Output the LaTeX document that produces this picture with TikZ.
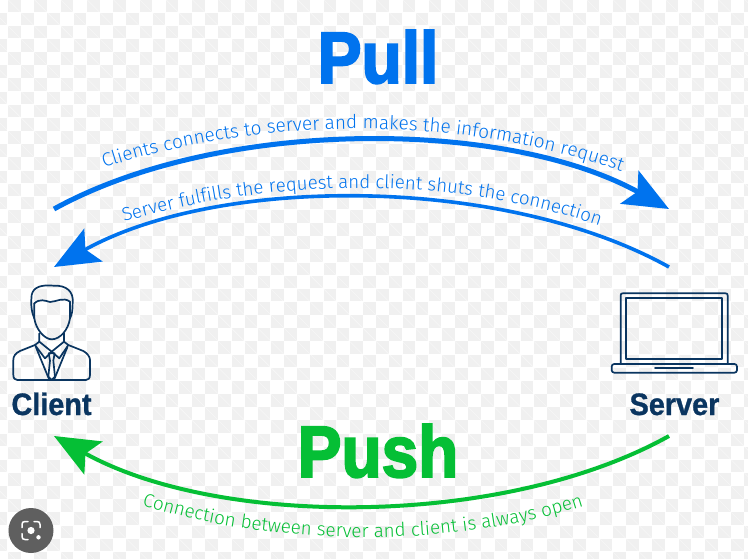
\documentclass[tikz,border=0pt]{standalone}
\usepackage{fontspec}
\usetikzlibrary{arrows.meta,decorations.text}
\setmainfont{Liberation Sans}
\newfontfamily\lightfont{Fira Sans Light}
\newfontfamily\heavyfont[UprightFont={* Bold},FakeBold=2.6,FakeStretch=0.9]{Liberation Sans}
\newfontfamily\hostfont[UprightFont={* Bold},FakeBold=1,FakeStretch=0.93]{Liberation Sans}
\definecolor{pullblue}{HTML}{0073EE}
\definecolor{pushgreen}{HTML}{05BF35}
\definecolor{navy}{HTML}{0A3560}
\definecolor{checker}{HTML}{F0F0F0}
\definecolor{badge}{HTML}{5F5F5F}
\tikzset{
  icon/.style={draw=navy,line width=1.7pt,line join=round,line cap=round},
  bigword/.style={inner sep=0pt,anchor=base,font=\heavyfont\fontsize{73}{73}\selectfont},
  hostlabel/.style={inner sep=0pt,anchor=base,text=navy,font=\hostfont\fontsize{31}{31}\selectfont},
  pullline/.style={draw=pullblue,line width=5pt},
  backline/.style={draw=pullblue,line width=3.6pt},
  pushline/.style={draw=pushgreen,line width=4pt},
  bighead/.style={-{Stealth[length=45pt,width=37.5pt,inset=9pt]}},
}
\begin{document}
\begin{tikzpicture}[x=1pt,y=-1pt]
\useasboundingbox (0,0) rectangle (748,558);
\fill[white] (0,0) rectangle (748,558);
% checker background
\foreach \c in {0,...,58}{\foreach \r in {0,...,43}{
  \ifodd\numexpr\c+\r\relax
    \fill[checker] ({-5.15+13.15*\c},{-0.45+13.15*\r}) rectangle ++(12.6,12.6);
    \draw[white,line width=.4pt,opacity=.6] ({-5.15+13.15*\c},{-0.45+13.15*\r}) -- ++(12.6,12.6);
  \fi}}
% titles
\node[bigword,text=pullblue] (pull) at (378,83) {Pull};
\node[bigword,text=pushgreen] (push) at (378,477) {Push};
\node[hostlabel] (client) at (51.5,415) {Client};
\node[hostlabel] (server) at (674.5,415) {Server};
% connector ends
\coordinate (pullA) at (54,209);
\coordinate (pullB) at (669,209);
\coordinate (backA) at (669,267);
\coordinate (backB) at (54,267);
\coordinate (pushA) at (669,436);
\coordinate (pushB) at (54,436);
\draw[pullline,bighead] (pullA) .. controls (219,118) and (504,118) .. (pullB);
\draw[backline,bighead] (backA) .. controls (504,175) and (219,175) .. (backB);
\draw[pushline,bighead] (pushA) .. controls (504,528) and (219,528) .. (pushB);
% curved labels
\coordinate (t1a) at (104,168);
\coordinate (t1b) at (644,180);
\coordinate (t2a) at (124,222);
\coordinate (t2b) at (621,233);
\coordinate (t3a) at (142,505);
\coordinate (t3b) at (604,499);
\path[decorate,decoration={text along path,text align=left,
  text={|\lightfont\fontsize{19}{19}\selectfont\color{pullblue}|Clients connects to server and makes the information request}}]
  (t1a) .. controls (270,114) and (475,114) .. (t1b);
\path[decorate,decoration={text along path,text align=left,
  text={|\lightfont\fontsize{18.7}{18.7}\selectfont\color{pullblue}|Server fulfills the request and client shuts the connection}}]
  (t2a) .. controls (280,175) and (465,175) .. (t2b);
\path[decorate,decoration={text along path,text align=left,
  text={|\lightfont\fontsize{18.85}{18.85}\selectfont\color{pushgreen}|Connection between server and client is always open}}]
  (t3a) .. controls (280,549) and (465,549) .. (t3b);
% person icon
\begin{scope}[shift={(0,270)},x=0.3333pt,y=-0.3333pt]
  \draw[icon] (103,145) .. controls (92,120) and (93,95) .. (95,75) .. controls (100,50) and (125,44) .. (160,47)
    .. controls (200,45) and (222,65) .. (218,100) .. controls (218,120) and (216,135) .. (210,145);
  \draw[icon] (103,100) .. controls (120,85) and (135,92) .. (150,96) .. controls (170,95) and (190,80) .. (210,95);
  \draw[icon] (103,100) -- (103,145) .. controls (108,180) and (135,208) .. (155,208)
    .. controls (180,208) and (205,180) .. (210,145) -- (210,95);
  \draw[icon] (118,190) -- (118,215) -- (155,245) -- (192,215) -- (192,190);
  \draw[icon] (118,215) -- (105,225) -- (60,243) .. controls (45,250) and (40,260) .. (40,270) -- (40,315)
    .. controls (40,325) and (45,330) .. (52,330) -- (258,330) .. controls (265,330) and (270,325) .. (270,315)
    -- (270,270) .. controls (270,260) and (262,250) .. (250,243) -- (205,225) -- (192,215);
  \draw[icon] (105,225) -- (135,265) -- (155,245) -- (178,265) -- (205,225);
  \draw[icon] (146,250) -- (164,250) -- (160,272) -- (165,320) -- (155,330) -- (145,320) -- (150,272) -- cycle;
  \draw[icon] (108,232) -- (146,325);
  \draw[icon] (202,232) -- (164,325);
\end{scope}
% laptop icon
\begin{scope}[shift={(600,280)},x=0.3333pt,y=-0.3333pt]
  \draw[icon] (62,252) -- (62,46) .. controls (62,42) and (64,40) .. (68,40) -- (377,40)
    .. controls (381,40) and (383,42) .. (383,46) -- (383,252);
  \draw[icon,line cap=butt] (78,55) rectangle (367,238);
  \draw[icon,rounded corners=2.5pt] (35,252) rectangle (411,278);
  \draw[icon] (165,264) -- (279,264);
\end{scope}
% lens badge
\begin{scope}[shift={(31,530.5)}]
  \fill[badge] (0,0) circle[radius=22.5];
  \fill[white] (0,0) circle[radius=3.6];
  \fill[white] (7.5,6.8) circle[radius=2.2];
  \draw[white,line width=1.5pt,line cap=round] (-9,-3) -- (-9,-6) .. controls (-9,-8) and (-8,-9) .. (-6,-9) -- (-3,-9);
  \draw[white,line width=1.5pt,line cap=round] (3,-9) -- (6,-9) .. controls (8,-9) and (9,-8) .. (9,-6) -- (9,-3);
  \draw[white,line width=1.5pt,line cap=round] (-9,3) -- (-9,6) .. controls (-9,8) and (-8,9) .. (-6,9) -- (-3,9);
\end{scope}
\end{tikzpicture}
\end{document}
